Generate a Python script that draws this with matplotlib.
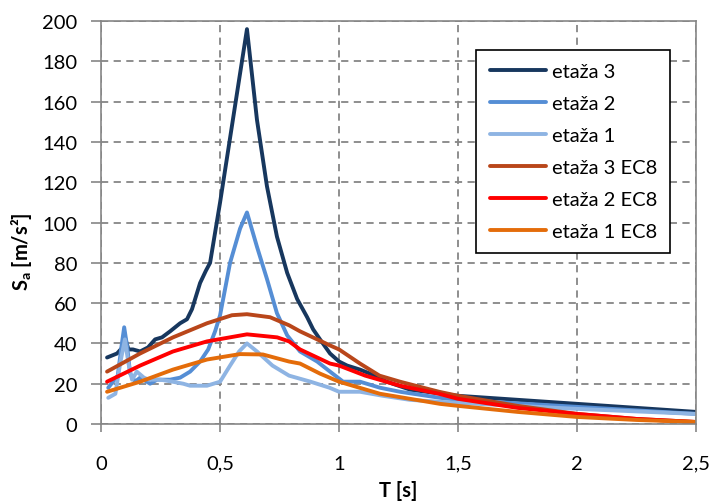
import matplotlib
matplotlib.use("Agg")
import matplotlib.pyplot as plt
from matplotlib.ticker import FuncFormatter

plt.rcParams["font.family"] = ["Lato", "DejaVu Sans"]
plt.rcParams["mathtext.fontset"] = "custom"
plt.rcParams["mathtext.rm"] = "Lato"
plt.rcParams["mathtext.bf"] = "Lato:bold"

# etaža 3 (measured)
t3 = [0.025, 0.067, 0.09, 0.1, 0.115, 0.134, 0.164, 0.197, 0.227, 0.256, 0.29, 0.332,
      0.361, 0.382, 0.416, 0.44, 0.458, 0.5, 0.542, 0.584, 0.613, 0.655, 0.697, 0.739,
      0.782, 0.824, 0.866, 0.891, 0.92, 0.962, 1.0, 1.034, 1.088, 1.13, 1.2, 1.3, 1.4,
      1.5, 1.75, 2.0, 2.25, 2.5]
s3 = [33, 35, 38, 43, 37, 37, 36, 38, 42, 43, 46, 50,
      52, 57, 70, 76, 80, 110, 142, 174, 196, 151, 118, 93,
      75, 62, 53, 47, 42, 35, 31, 29, 27, 25, 21, 17, 15.5,
      14, 12, 10, 8, 6]

# etaža 2 (measured)
t2 = [0.03, 0.07, 0.085, 0.097, 0.11, 0.122, 0.143, 0.164, 0.206, 0.235, 0.29, 0.332,
      0.374, 0.416, 0.45, 0.479, 0.5, 0.542, 0.584, 0.613, 0.655, 0.697, 0.739, 0.782,
      0.836, 0.908, 0.962, 1.017, 1.088, 1.172, 1.256, 1.424, 1.5, 2.0, 2.5]
s2 = [18, 24, 38, 48, 38, 25, 21, 23, 20, 22, 22, 23,
      26, 31, 37, 46, 54, 80, 97, 105, 88, 72, 55, 44,
      36, 31, 26, 21, 21, 18, 16, 13, 12, 8.5, 5]

# etaža 1 (measured)
t1 = [0.03, 0.06, 0.08, 0.1, 0.115, 0.13, 0.15, 0.18, 0.2, 0.25, 0.3, 0.345,
      0.374, 0.445, 0.5, 0.542, 0.58, 0.613, 0.655, 0.72, 0.79, 0.88, 0.96, 1.0,
      1.05, 1.088, 1.184, 1.298, 1.424, 1.5, 2.0, 2.5]
s1 = [13, 15, 30, 42, 30, 22, 26, 23, 22, 22, 21, 20,
      19, 19, 21, 29, 36, 40, 36, 29, 24, 21, 18, 16,
      16, 16, 14, 12, 11, 10.5, 7.5, 5]

# EC8 spectra
te3 = [0.025, 0.164, 0.302, 0.445, 0.55, 0.613, 0.71, 0.79, 0.836, 0.962, 1.0, 1.088,
       1.17, 1.256, 1.42, 1.5, 1.75, 2.0, 2.25, 2.5]
se3 = [26, 35, 43, 50, 54, 54.5, 53, 49, 46, 39, 37, 30,
       24, 21, 16, 14, 9, 5, 2.5, 1]

te2 = [0.025, 0.164, 0.302, 0.445, 0.613, 0.74, 0.79, 0.836, 0.962, 1.0, 1.11, 1.256,
       1.42, 1.5, 1.75, 2.0, 2.25, 2.5]
se2 = [21, 29, 36, 41, 44.5, 43, 41, 37, 30, 29, 24, 19,
       15, 12.5, 8, 5, 2.5, 1]

te1 = [0.025, 0.164, 0.302, 0.445, 0.584, 0.68, 0.79, 0.836, 0.92, 1.0, 1.172, 1.424,
       1.5, 1.75, 2.0, 2.25, 2.5]
se1 = [16, 21, 27, 32, 34.7, 34.5, 31, 30, 25, 21, 15, 10,
       9, 6, 3.5, 2, 1]

series = [
    (t3, s3, "etaža 3", "#17375E"),
    (t2, s2, "etaža 2", "#558ED5"),
    (t1, s1, "etaža 1", "#8EB4E3"),
    (te3, se3, "etaža 3 EC8", "#B9461A"),
    (te2, se2, "etaža 2 EC8", "#FF0000"),
    (te1, se1, "etaža 1 EC8", "#E46C0A"),
]

fig = plt.figure(figsize=(7.12, 5.02), dpi=100)
ax = fig.add_axes([0.142, 0.1534, 0.8355, 0.8026])

for x, y, lab, c in series:
    ax.plot(x, y, color=c, lw=2.8, label=lab, solid_capstyle="round", solid_joinstyle="round")

ax.set_xlim(0, 2.5)
ax.set_ylim(0, 200)
ax.set_xticks([0, 0.5, 1, 1.5, 2, 2.5])
ax.set_yticks(range(0, 201, 20))
ax.xaxis.set_major_formatter(FuncFormatter(lambda v, p: f"{v:g}".replace(".", ",")))
ax.grid(True, color="#868686", ls=(0, (4, 3)), lw=1.3)
ax.set_axisbelow(True)
for sp in ax.spines.values():
    sp.set_color("#868686")
    sp.set_linewidth(1.2)
ax.tick_params(axis="both", colors="#868686", width=1.2, labelsize=14.5, labelcolor="black")
ax.tick_params(axis="y", length=7, pad=10)
ax.tick_params(axis="x", length=6, pad=16)

ax.set_xlabel("T [s]", fontsize=14.5, fontweight="bold", va="top")
ax.xaxis.set_label_coords(0.5, -0.138)
ax.set_ylabel(r"S$_{\mathbf{a}}$ [m/s²]", fontsize=14.5, fontweight="bold")
ax.yaxis.set_label_coords(-0.112, 0.43)

leg = ax.legend(loc="upper right", bbox_to_anchor=(0.957, 0.928), fontsize=14.5,
                frameon=True, fancybox=False, edgecolor="black", framealpha=1,
                handlelength=2.8, handletextpad=0.3, labelspacing=0.74, borderpad=0.65,
                borderaxespad=0)
leg.get_frame().set_linewidth(1.2)

fig.savefig("out.png", dpi=100)
